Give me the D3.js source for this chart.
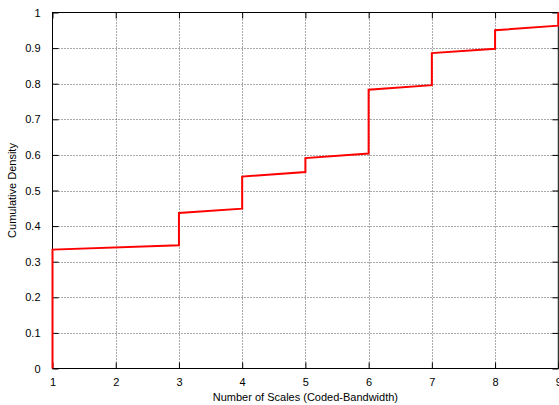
<!DOCTYPE html>
<html>
<head>
<meta charset="utf-8">
<script src="https://cdn.jsdelivr.net/npm/d3@7"></script>
<style>
  html, body { margin: 0; padding: 0; background: #fff; }
  svg { display: block; }
  text { font-family: "Liberation Sans", Arial, Helvetica, sans-serif; fill: #000; }
</style>
</head>
<body>
<svg id="chart" width="559" height="405"></svg>
<script>
// Data: step-like cumulative density curve (vertices of the plotted line)
const curveX = [1, 1, 3, 3, 4, 4, 5, 5, 6, 6, 7, 7, 8, 8, 9, 9];
const curveY = [0, 0.334, 0.346, 0.437, 0.449, 0.539, 0.552, 0.591, 0.604, 0.783, 0.796, 0.886, 0.898, 0.950, 0.963, 1.0];
const xTicks = [1, 2, 3, 4, 5, 6, 7, 8, 9];
const yTicks = [0, 0.1, 0.2, 0.3, 0.4, 0.5, 0.6, 0.7, 0.8, 0.9, 1];
const xLabel = "Number of Scales (Coded-Bandwidth)";
const yLabel = "Cumulative Density";

const W = 559, H = 405;
const margin = { left: 52.5, right: 0.5, top: 12.5, bottom: 36.5 };
const svg = d3.select("#chart");

const x = d3.scaleLinear().domain([1, 9]).range([margin.left, W - margin.right - 0.2]);
const y = d3.scaleLinear().domain([0, 1]).range([H - margin.bottom, margin.top]);

const fmtY = d => (d === 0 ? "0" : d === 1 ? "1" : d3.format(".1f")(d));

// grid
const grid = svg.append("g");
grid.selectAll("line.gx").data(xTicks.slice(1, -1)).join("line")
  .attr("x1", d => Math.round(x(d)) + 0.5).attr("x2", d => Math.round(x(d)) + 0.5)
  .attr("y1", y(0)).attr("y2", y(1))
  .attr("stroke", "#555").attr("stroke-width", 1).attr("stroke-dasharray", "1,2");
grid.selectAll("line.gy").data(yTicks.slice(1, -1)).join("line")
  .attr("y1", d => Math.round(y(d)) + 0.5).attr("y2", d => Math.round(y(d)) + 0.5)
  .attr("x1", x(1)).attr("x2", x(9))
  .attr("stroke", "#555").attr("stroke-width", 1).attr("stroke-dasharray", "1,2");

// axes with inward ticks (gnuplot style)
const tickLen = 6;
const axB = d3.axisBottom(x).tickValues(xTicks).tickSize(-tickLen).tickPadding(tickLen + 4).tickFormat(d3.format("d"));
const axT = d3.axisTop(x).tickValues(xTicks).tickSize(-tickLen).tickFormat("");
const axL = d3.axisLeft(y).tickValues(yTicks).tickSize(-tickLen).tickPadding(tickLen + 6).tickFormat(fmtY);
const axR = d3.axisRight(y).tickValues(yTicks).tickSize(-tickLen).tickFormat("");

function style(g) {
  g.select(".domain").remove();
  g.selectAll(".tick line").attr("stroke", "#000").attr("stroke-width", 1);
  g.selectAll("text").attr("font-size", 11).attr("font-family", "Liberation Sans, Arial, sans-serif").attr("fill", "#000");
}
svg.append("g").attr("transform", `translate(0,${y(0)})`).call(axB).call(style);
svg.append("g").attr("transform", `translate(0,${y(1)})`).call(axT).call(style);
svg.append("g").attr("transform", `translate(${x(1)},0)`).call(axL).call(style);
svg.append("g").attr("transform", `translate(${x(9)},0)`).call(axR).call(style);

// border
svg.append("rect")
  .attr("x", x(1)).attr("y", y(1))
  .attr("width", x(9) - x(1)).attr("height", y(0) - y(1))
  .attr("fill", "none").attr("stroke", "#000").attr("stroke-width", 1);

// curve
const pts = curveX.map((v, i) => [v, curveY[i]]);
svg.append("path")
  .datum(pts)
  .attr("d", d3.line().x(d => x(d[0])).y(d => y(d[1])))
  .attr("fill", "none").attr("stroke", "#ff0000").attr("stroke-width", 2)
  .attr("stroke-linejoin", "miter");

// labels
svg.append("text").attr("x", (x(1) + x(9)) / 2).attr("y", 401)
  .attr("text-anchor", "middle").attr("font-size", 11).text(xLabel);
svg.append("text").attr("transform", `translate(16,${(y(0) + y(1)) / 2}) rotate(-90)`)
  .attr("text-anchor", "middle").attr("font-size", 11).text(yLabel);
</script>
</body>
</html>
